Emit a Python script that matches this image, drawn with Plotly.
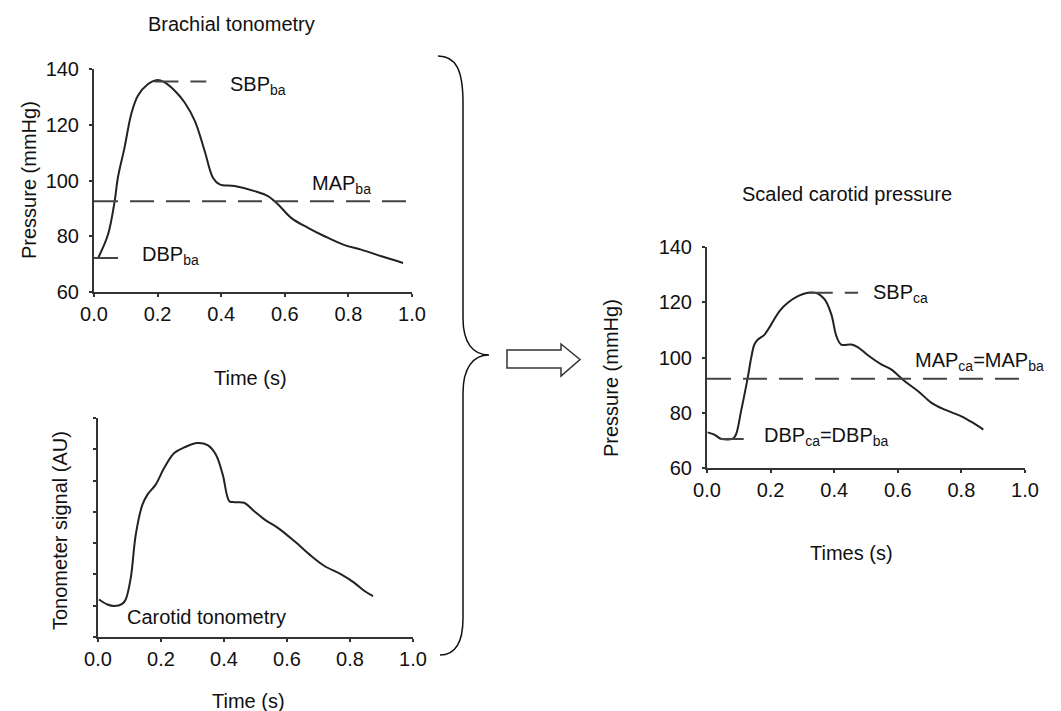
import plotly.graph_objects as go

W, H = 1061, 711

# ---------------- data ----------------
# Brachial tonometry pressure waveform (s, mmHg)
brachial_t = [0.013, 0.044, 0.065, 0.075, 0.096, 0.117, 0.138, 0.17, 0.196, 0.222, 0.254,
              0.285, 0.317, 0.348, 0.374, 0.395, 0.442, 0.505, 0.547, 0.579, 0.62, 0.673,
              0.725, 0.788, 0.84, 0.904, 0.972]
brachial_p = [72.2, 80.6, 92.6, 101.0, 111.8, 123.8, 130.4, 134.6, 136.0, 135.2, 132.2,
              128.0, 121.4, 110.6, 101.0, 98.6, 98.0, 96.2, 94.4, 91.4, 86.6, 83.0,
              80.0, 76.8, 75.2, 72.8, 70.4]
sbp_ba = 135.5
map_ba = 92.6
dbp_ba = 72.2
sbp_ba_t = [0.19, 0.353]
map_ba_t = [0.0, 1.0]
dbp_ba_t = [0.0, 0.086]

# Carotid tonometry raw signal (s, AU)
carotid_t = [0.003, 0.03, 0.051, 0.077, 0.088, 0.104, 0.12, 0.141, 0.157, 0.183, 0.21,
             0.242, 0.274, 0.316, 0.348, 0.374, 0.396, 0.417, 0.433, 0.464, 0.496, 0.528,
             0.571, 0.624, 0.677, 0.719, 0.772, 0.814, 0.846, 0.873]
carotid_s = [1.20, 1.04, 0.99, 1.06, 1.20, 1.89, 3.28, 4.23, 4.55, 4.87, 5.40,
             5.88, 6.06, 6.20, 6.13, 5.83, 5.19, 4.34, 4.31, 4.29, 4.02, 3.76,
             3.49, 3.06, 2.59, 2.27, 2.00, 1.73, 1.47, 1.31]

# Scaled carotid pressure (s, mmHg)
scaled_t = [0.002, 0.023, 0.044, 0.081, 0.091, 0.107, 0.128, 0.139, 0.149, 0.16, 0.181,
            0.202, 0.228, 0.254, 0.286, 0.317, 0.343, 0.37, 0.391, 0.407, 0.422, 0.454,
            0.475, 0.506, 0.548, 0.58, 0.622, 0.664, 0.706, 0.748, 0.8, 0.837, 0.869]
scaled_p = [72.9, 72.1, 70.6, 70.6, 72.1, 80.5, 92.6, 99.9, 104.7, 106.5, 108.3,
            112.0, 116.8, 119.8, 122.2, 123.4, 123.4, 121.0, 115.6, 107.7, 104.7, 104.7,
            103.7, 100.8, 97.5, 95.6, 91.4, 87.8, 83.6, 81.1, 78.7, 76.3, 73.9]
sbp_ca = 123.4
map_ca = 92.3
dbp_ca = 70.5
sbp_ca_t = [0.32, 0.475]
map_ca_t = [0.0, 1.0]
dbp_ca_t = [0.04, 0.144]

time_ticks = [0.0, 0.2, 0.4, 0.6, 0.8, 1.0]
pressure_ticks = [60, 80, 100, 120, 140]
signal_ticks = [0, 1, 2, 3, 4, 5, 6, 7]

# ---------------- styling ----------------
FONT = "Liberation Sans, Arial, Helvetica, sans-serif"
TXT = "#111111"
CURVE = dict(color="#222222", width=2)
DASH = dict(color="#444444", width=2, dash="24px,12px")
AXC = "#333333"


def px_x(p):
    return p / W


def px_y(p):
    return 1 - p / H


fig = go.Figure()

# panel 1: brachial
fig.add_trace(go.Scatter(x=brachial_t, y=brachial_p, mode="lines", line=CURVE,
                         line_shape="spline", xaxis="x", yaxis="y"))
fig.add_trace(go.Scatter(x=sbp_ba_t, y=[sbp_ba] * 2, mode="lines", line=DASH, xaxis="x", yaxis="y"))
fig.add_trace(go.Scatter(x=map_ba_t, y=[map_ba] * 2, mode="lines", line=DASH, xaxis="x", yaxis="y"))
fig.add_trace(go.Scatter(x=dbp_ba_t, y=[dbp_ba] * 2, mode="lines", line=DASH, xaxis="x", yaxis="y"))

# panel 2: carotid signal
fig.add_trace(go.Scatter(x=carotid_t, y=carotid_s, mode="lines", line=CURVE,
                         line_shape="spline", xaxis="x2", yaxis="y2"))

# panel 3: scaled carotid
fig.add_trace(go.Scatter(x=scaled_t, y=scaled_p, mode="lines", line=CURVE,
                         line_shape="spline", xaxis="x3", yaxis="y3"))
fig.add_trace(go.Scatter(x=sbp_ca_t, y=[sbp_ca] * 2, mode="lines", line=DASH, xaxis="x3", yaxis="y3"))
fig.add_trace(go.Scatter(x=map_ca_t, y=[map_ca] * 2, mode="lines", line=DASH, xaxis="x3", yaxis="y3"))
fig.add_trace(go.Scatter(x=dbp_ca_t, y=[dbp_ca] * 2, mode="lines", line=DASH, xaxis="x3", yaxis="y3"))

axis_common = dict(showline=True, linewidth=2, linecolor=AXC, ticks="outside", ticklen=3,
                   tickwidth=2, tickcolor=AXC, showgrid=False, zeroline=False,
                   automargin=False,
                   tickfont=dict(size=20, color=TXT, family=FONT), fixedrange=True)

xcommon = dict(axis_common, range=[0, 1], tickvals=time_ticks, tickformat=".1f")

fig.update_layout(
    template="none",
    width=W, height=H, autosize=False,
    margin=dict(l=0, r=0, t=0, b=0, pad=0),
    paper_bgcolor="white", plot_bgcolor="white",
    showlegend=False,
    font=dict(family=FONT, size=20, color=TXT),
    xaxis=dict(xcommon, domain=[px_x(86), px_x(404)], anchor="y"),
    yaxis=dict(axis_common, domain=[px_y(284), px_y(61)], range=[60, 140],
               tickvals=pressure_ticks, anchor="x", ticklabelstandoff=6),
    xaxis2=dict(xcommon, domain=[px_x(90), px_x(405)], anchor="y2"),
    yaxis2=dict(axis_common, domain=[px_y(629), px_y(410)], range=[0, 7],
                tickvals=signal_ticks, showticklabels=False, anchor="x2"),
    xaxis3=dict(xcommon, domain=[px_x(699), px_x(1017)], anchor="y3"),
    yaxis3=dict(axis_common, domain=[px_y(460), px_y(239)], range=[60, 140],
                tickvals=pressure_ticks, anchor="x3", ticklabelstandoff=6),
)

ann = []


def label(text, x, y, xref, yref, xanchor="left", yanchor="middle", angle=0):
    ann.append(dict(text=text, x=x, y=y, xref=xref, yref=yref, xanchor=xanchor,
                    yanchor=yanchor, showarrow=False, textangle=angle,
                    font=dict(size=20, color=TXT, family=FONT)))


# titles
label("Brachial tonometry", px_x(223), px_y(16), "paper", "paper", "center")
label("Scaled carotid pressure", px_x(839), px_y(186), "paper", "paper", "center")
# axis titles
label("Time (s)", px_x(242), px_y(370), "paper", "paper", "center")
label("Pressure (mmHg)", px_x(21), px_y(172), "paper", "paper", "center", angle=-90)
label("Time (s)", px_x(240), px_y(693), "paper", "paper", "center")
label("Tonometer signal (AU)", px_x(52), px_y(523), "paper", "paper", "center", angle=-90)
label("Times (s)", px_x(843), px_y(545), "paper", "paper", "center")
label("Pressure (mmHg)", px_x(603), px_y(370), "paper", "paper", "center", angle=-90)
# reference labels
label("SBP<sub>ba</sub>", 0.421, 134.0, "x", "y")
label("MAP<sub>ba</sub>", 0.679, 98.5, "x", "y")
label("DBP<sub>ba</sub>", 0.145, 73.2, "x", "y")
label("Carotid tonometry", 0.086, 0.64, "x2", "y2")
label("SBP<sub>ca</sub>", 0.516, 123.3, "x3", "y3")
label("MAP<sub>ca</sub>=MAP<sub>ba</sub>", 0.648, 98.6, "x3", "y3")
label("DBP<sub>ca</sub>=DBP<sub>ba</sub>", 0.173, 71.5, "x3", "y3")

fig.update_layout(annotations=ann)


def P(x, y):
    return f"{px_x(x):.5f},{px_y(y):.5f}"


brace = (f"M {P(430,48)} C {P(448,48)} {P(455,62)} {P(455,95)} L {P(455,310)} "
         f"C {P(455,335)} {P(465,347)} {P(481,347)} C {P(465,347)} {P(455,360)} {P(455,385)} "
         f"L {P(455,610)} C {P(455,636)} {P(446,647)} {P(432,647)}")
arrow = (f"M {P(499,342)} L {P(553,342)} L {P(553,336)} L {P(572,351.5)} L {P(553,368)} "
         f"L {P(553,360)} L {P(499,360)} Z")

fig.update_layout(shapes=[
    dict(type="path", path=brace, xref="paper", yref="paper",
         line=dict(color="#111111", width=1.5)),
    dict(type="path", path=arrow, xref="paper", yref="paper",
         line=dict(color="#333333", width=1.5), fillcolor="white"),
])

fig.write_html("out.html", config=dict(displayModeBar=False))
